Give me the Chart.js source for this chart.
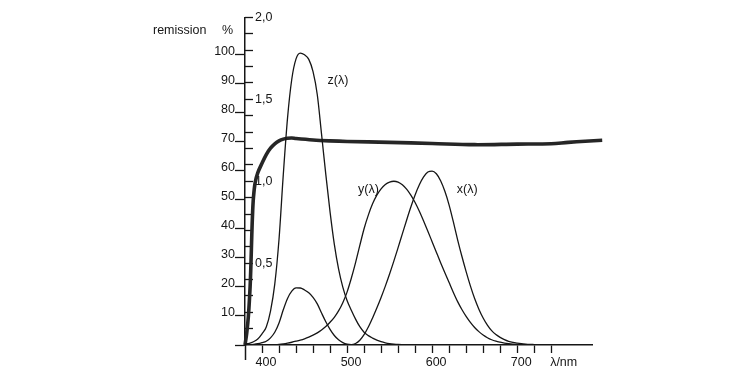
<!DOCTYPE html>
<html>
<head>
<meta charset="utf-8">
<script src="https://cdn.jsdelivr.net/npm/chart.js@4.4.0/dist/chart.umd.min.js"></script>
<style>
  html, body { margin: 0; padding: 0; background: #fff; }
</style>
</head>
<body>
<canvas id="chart" width="750" height="381"></canvas>
<script>
// CIE 1931 colour matching functions, 5 nm steps from 380 nm
const cmfWl = [380, 385, 390, 395, 400, 405, 410, 415, 420, 425, 430, 435, 440, 445, 450, 455, 460, 465, 470,
  475, 480, 485, 490, 495, 500, 505, 510, 515, 520, 525, 530, 535, 540, 545, 550, 555, 560, 565, 570, 575,
  580, 585, 590, 595, 600, 605, 610, 615, 620, 625, 630, 635, 640, 645, 650, 655, 660, 665, 670, 675, 680,
  685, 690, 695, 700, 705, 710, 715, 720];
const xBar = [0.0014, 0.0022, 0.0042, 0.0077, 0.0143, 0.0232, 0.0435, 0.0776, 0.1344, 0.2148, 0.2839, 0.3285,
  0.3483, 0.3481, 0.3362, 0.3187, 0.2908, 0.2511, 0.1954, 0.1421, 0.0956, 0.0580, 0.0320, 0.0147, 0.0049,
  0.0024, 0.0093, 0.0291, 0.0633, 0.1096, 0.1655, 0.2257, 0.2904, 0.3597, 0.4334, 0.5121, 0.5945, 0.6784,
  0.7621, 0.8425, 0.9163, 0.9786, 1.0263, 1.0567, 1.0622, 1.0456, 1.0026, 0.9384, 0.8544, 0.7514, 0.6424,
  0.5419, 0.4479, 0.3608, 0.2835, 0.2187, 0.1649, 0.1212, 0.0874, 0.0636, 0.0468, 0.0329, 0.0227, 0.0158,
  0.0114, 0.0081, 0.0058, 0.0041, 0.0029];
const yBar = [0.0000, 0.0001, 0.0001, 0.0002, 0.0004, 0.0006, 0.0012, 0.0022, 0.0040, 0.0073, 0.0116, 0.0168,
  0.0230, 0.0298, 0.0380, 0.0480, 0.0600, 0.0739, 0.0910, 0.1126, 0.1390, 0.1693, 0.2080, 0.2586, 0.3230,
  0.4073, 0.5030, 0.6082, 0.7100, 0.7932, 0.8620, 0.9149, 0.9540, 0.9803, 0.9950, 1.0000, 0.9950, 0.9786,
  0.9520, 0.9154, 0.8700, 0.8163, 0.7570, 0.6949, 0.6310, 0.5668, 0.5030, 0.4412, 0.3810, 0.3210, 0.2650,
  0.2170, 0.1750, 0.1382, 0.1070, 0.0816, 0.0610, 0.0446, 0.0320, 0.0232, 0.0170, 0.0119, 0.0082, 0.0057,
  0.0041, 0.0029, 0.0021, 0.0015, 0.0010];
const zWl = [380, 385, 390, 395, 400, 405, 410, 415, 420, 425, 430, 435, 440, 445, 450, 455, 460, 465, 470,
  475, 480, 485, 490, 495, 500, 505, 510, 515, 520, 525, 530, 535, 540, 545, 550, 555, 560, 570, 580, 590, 600];
const zBar = [0.0065, 0.0106, 0.0201, 0.0362, 0.0679, 0.1102, 0.2074, 0.3713, 0.6456, 1.0391, 1.3856, 1.6230,
  1.7471, 1.7826, 1.7721, 1.7441, 1.6692, 1.5281, 1.2876, 1.0419, 0.8130, 0.6162, 0.4652, 0.3533, 0.2720,
  0.2123, 0.1582, 0.1117, 0.0782, 0.0573, 0.0422, 0.0298, 0.0203, 0.0134, 0.0087, 0.0058, 0.0039, 0.0021,
  0.0017, 0.0011, 0.0008];

// remission curve, %
const remWl = [380, 382, 384, 386, 387, 388, 389, 390, 392, 395, 400, 405, 410, 415, 420, 425, 430, 435, 440,
  460, 480, 500, 550, 600, 650, 700, 740, 760, 780, 800];
const remission = [0, 4, 10, 20, 28, 38, 46, 51, 56, 59.3, 62.6, 65.6, 67.8, 69.3, 70.3, 70.9, 71.2, 71.3, 71.1,
  70.6, 70.3, 70.1, 69.8, 69.4, 69.0, 69.2, 69.3, 69.8, 70.2, 70.5];

const curveNames = ["x(λ)", "y(λ)", "z(λ)"];
const wlTicks = [400, 420, 440, 460, 480, 500, 520, 540, 560, 580, 600, 620, 640, 660, 680, 700, 720, 740, 750];
const wlLabels = {400: "400", 500: "500", 600: "600", 700: "700", 750: "λ/nm"};
const pctTicks = [0, 10, 20, 30, 40, 50, 60, 70, 80, 90, 100];
const cmfTicks = [0.1, 0.2, 0.3, 0.4, 0.5, 0.6, 0.7, 0.8, 0.9, 1.0, 1.1, 1.2, 1.3, 1.4, 1.5, 1.6, 1.7, 1.8, 1.9, 2.0];
const cmfLabelValues = [0.5, 1.0, 1.5, 2.0];
const cmfLabels = ["0,5", "1,0", "1,5", "2,0"];

const FONT = "'Liberation Sans', Arial, sans-serif";
const INK = "#161616";
Chart.defaults.font.family = FONT;
Chart.defaults.font.size = 12.5;
Chart.defaults.color = INK;

const pts = (xs, ys) => xs.map((x, i) => ({x: x, y: ys[i]}));

const thin = {borderColor: INK, borderWidth: 1.3, pointRadius: 0, cubicInterpolationMode: "monotone", yAxisID: "y2"};

// captions and curve names
const textPlugin = {
  id: "texts",
  afterDraw(chart) {
    const {ctx, scales, chartArea} = chart;
    ctx.save();
    ctx.font = "12.5px " + FONT;
    ctx.fillStyle = INK;
    ctx.textBaseline = "alphabetic";
    ctx.textAlign = "left";
    const capY = scales.y.getPixelForValue(107);
    ctx.fillText("remission", chartArea.left - 92, capY);
    ctx.fillText("%", chartArea.left - 23, capY);
    const anchors = [[629, 0.93], [513, 0.93], [477, 1.593]];
    curveNames.forEach((name, i) => {
      ctx.fillText(name, scales.x.getPixelForValue(anchors[i][0]), scales.y2.getPixelForValue(anchors[i][1]));
    });
    ctx.restore();
  }
};

new Chart(document.getElementById("chart"), {
  type: "line",
  data: {
    datasets: [
      Object.assign({label: curveNames[0], data: pts(cmfWl, xBar)}, thin),
      Object.assign({label: curveNames[1], data: pts(cmfWl, yBar)}, thin),
      Object.assign({label: curveNames[2], data: pts(zWl, zBar)}, thin),
      {label: "remission", data: pts(remWl, remission), yAxisID: "y", borderColor: "#262626", borderWidth: 3.6,
        pointRadius: 0, tension: 0.35, clip: false}
    ]
  },
  options: {
    responsive: false,
    animation: false,
    layout: {padding: {left: 185, top: 16, right: 158, bottom: 0}},
    plugins: {legend: {display: false}, tooltip: {enabled: false}},
    scales: {
      x: {
        type: "linear", min: 380, max: 788, position: "bottom",
        afterBuildTicks: s => { s.ticks = wlTicks.map(v => ({value: v})); },
        afterFit: s => { s.height = 36; },
        grid: {drawOnChartArea: false, tickLength: 8, tickWidth: 1.3,
          tickColor: c => (c.tick && c.tick.value === 750) ? "rgba(0,0,0,0)" : INK},
        border: {color: INK, width: 1.5},
        ticks: {autoSkip: false, maxRotation: 0, padding: 2, labelOffset: 4,
          callback: v => wlLabels[v] || ""}
      },
      x2: {
        type: "linear", min: 380, max: 788, position: "bottom", weight: -1,
        afterBuildTicks: s => { s.ticks = [{value: 380}]; },
        afterFit: s => { s.height = 0; },
        grid: {drawOnChartArea: false, tickLength: 15, tickWidth: 1.5, tickColor: INK},
        border: {display: false},
        ticks: {display: false}
      },
      y: {
        min: 0, max: 112.8, position: "left", weight: 1,
        afterBuildTicks: s => { s.ticks = pctTicks.map(v => ({value: v})); },
        afterFit: s => { s.width = 60; },
        grid: {drawOnChartArea: false, tickLength: 10, tickWidth: 1.3, tickColor: INK},
        border: {color: INK, width: 1.5},
        ticks: {autoSkip: false, padding: 0, labelOffset: -3.5, callback: v => v === 0 ? "" : String(v)}
      },
      y2: {
        min: 0, max: 2.0, position: "left", weight: 0,
        afterBuildTicks: s => { s.ticks = cmfTicks.map(v => ({value: v})); },
        afterFit: s => { s.width = 0; },
        grid: {drawOnChartArea: false, tickLength: -8, tickWidth: 1.3, tickColor: INK},
        border: {display: false},
        ticks: {autoSkip: false, mirror: true, padding: 10,
          callback: v => {
            const k = cmfLabelValues.findIndex(t => Math.abs(t - v) < 1e-6);
            return k < 0 ? "" : cmfLabels[k];
          }}
      }
    }
  },
  plugins: [textPlugin]
});
</script>
</body>
</html>
